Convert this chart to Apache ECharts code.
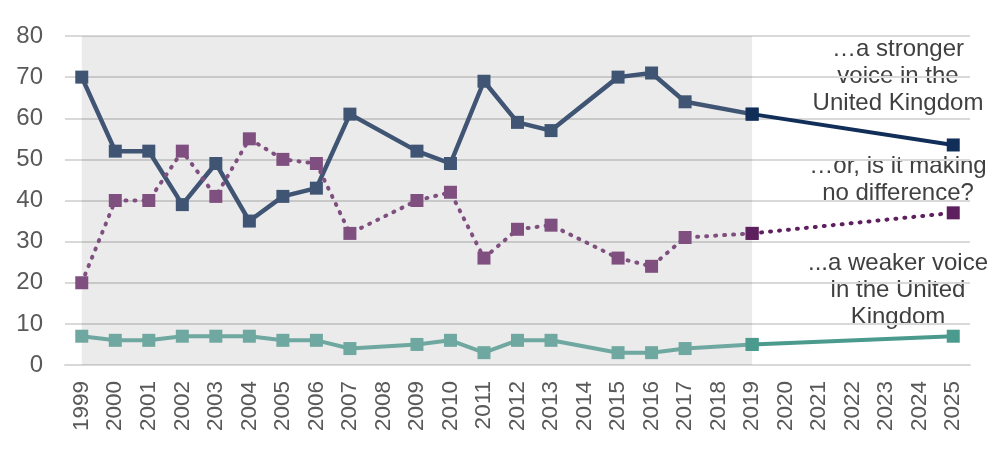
<!DOCTYPE html>
<html>
<head>
<meta charset="utf-8">
<script src="https://cdn.jsdelivr.net/npm/echarts@6/dist/echarts.min.js"></script>
<style>
  html, body { margin: 0; padding: 0; background: #fff; }
  #main { width: 1004px; height: 468px; }
</style>
</head>
<body>
<div id="main"></div>
<script>
// years on the x axis
var years = ['1999','2000','2001','2002','2003','2004','2005','2006','2007','2008','2009','2010',
  '2011','2012','2013','2014','2015','2016','2017','2018','2019','2020','2021','2022','2023','2024','2025'];

// survey results 1999-2019 (null = no survey that year)
var stronger = [70,52,52,39,49,35,41,43,61,null,52,49,69,59,57,null,70,71,64,null,61,null,null,null,null,null,null];
var noDiff   = [20,40,40,52,41,55,50,49,32,null,40,42,26,33,34,null,26,24,31,null,32,null,null,null,null,null,null];
var weaker   = [7,6,6,7,7,7,6,6,4,null,5,6,3,6,6,null,3,3,4,null,5,null,null,null,null,null,null];

// 2019 -> 2025
var strongerNew = [null,null,null,null,null,null,null,null,null,null,null,null,null,null,null,null,null,null,null,null,61,null,null,null,null,null,53.5];
var noDiffNew   = [null,null,null,null,null,null,null,null,null,null,null,null,null,null,null,null,null,null,null,null,32,null,null,null,null,null,37];
var weakerNew   = [null,null,null,null,null,null,null,null,null,null,null,null,null,null,null,null,null,null,null,null,5,null,null,null,null,null,7];

var chart = echarts.init(document.getElementById('main'));

function lineSeries(name, data, color, width, dotted, z) {
  return {
    name: name,
    type: 'line',
    data: data,
    connectNulls: true,
    symbol: 'rect',
    symbolSize: 13,
    z: z,
    itemStyle: { color: color },
    lineStyle: dotted
      ? { color: color, width: 4, type: [1, 8], cap: 'round' }
      : { color: color, width: width },
    emphasis: { disabled: true }
  };
}

var s0 = lineSeries('stronger', stronger, '#3f5573', 4.5, false, 3);
// shaded 1999-2019 block
s0.markArea = {
  silent: true,
  itemStyle: { color: 'rgba(0,0,0,0.08)' },
  data: [[{ xAxis: '1999' }, { xAxis: '2019' }]]
};

function label(text, y) {
  return {
    type: 'text', x: 898, y: y,
    style: { text: text, align: 'center', verticalAlign: 'top', font: '24px Liberation Sans', lineHeight: 27, fill: '#404040' }
  };
}

var option = {
  animation: false,
  backgroundColor: '#fff',
  textStyle: { fontFamily: 'Liberation Sans, Arial, sans-serif' },
  grid: { left: 65, right: 34, top: 36, bottom: 103 },
  xAxis: {
    type: 'category',
    data: years,
    axisTick: { show: false },
    axisLine: { lineStyle: { color: '#d9d9d9', width: 2 } },
    axisLabel: { rotate: 90, interval: 0, fontSize: 22.5, color: '#595959', margin: 16 }
  },
  yAxis: {
    type: 'value',
    min: 0, max: 80, interval: 10,
    axisLine: { show: false },
    axisTick: { show: false },
    axisLabel: { fontSize: 24, color: '#595959', margin: 22 },
    splitLine: { lineStyle: { color: '#d9d9d9', width: 2 } }
  },
  series: [
    s0,
    lineSeries('noDiff', noDiff, '#7f4f7f', 3, true, 3),
    lineSeries('weaker', weaker, '#6ea8a0', 4, false, 3),
    lineSeries('strongerNew', strongerNew, '#102e58', 4, false, 4),
    lineSeries('noDiffNew', noDiffNew, '#5e1f5e', 3, true, 4),
    lineSeries('weakerNew', weakerNew, '#4a9a8e', 4, false, 4)
  ],
  graphic: [
    label('…a stronger\nvoice in the\nUnited Kingdom', 36),
    label('…or, is it making\nno difference?', 153),
    label('...a weaker voice\nin the United\nKingdom', 250)
  ]
};
chart.setOption(option);
</script>
</body>
</html>
